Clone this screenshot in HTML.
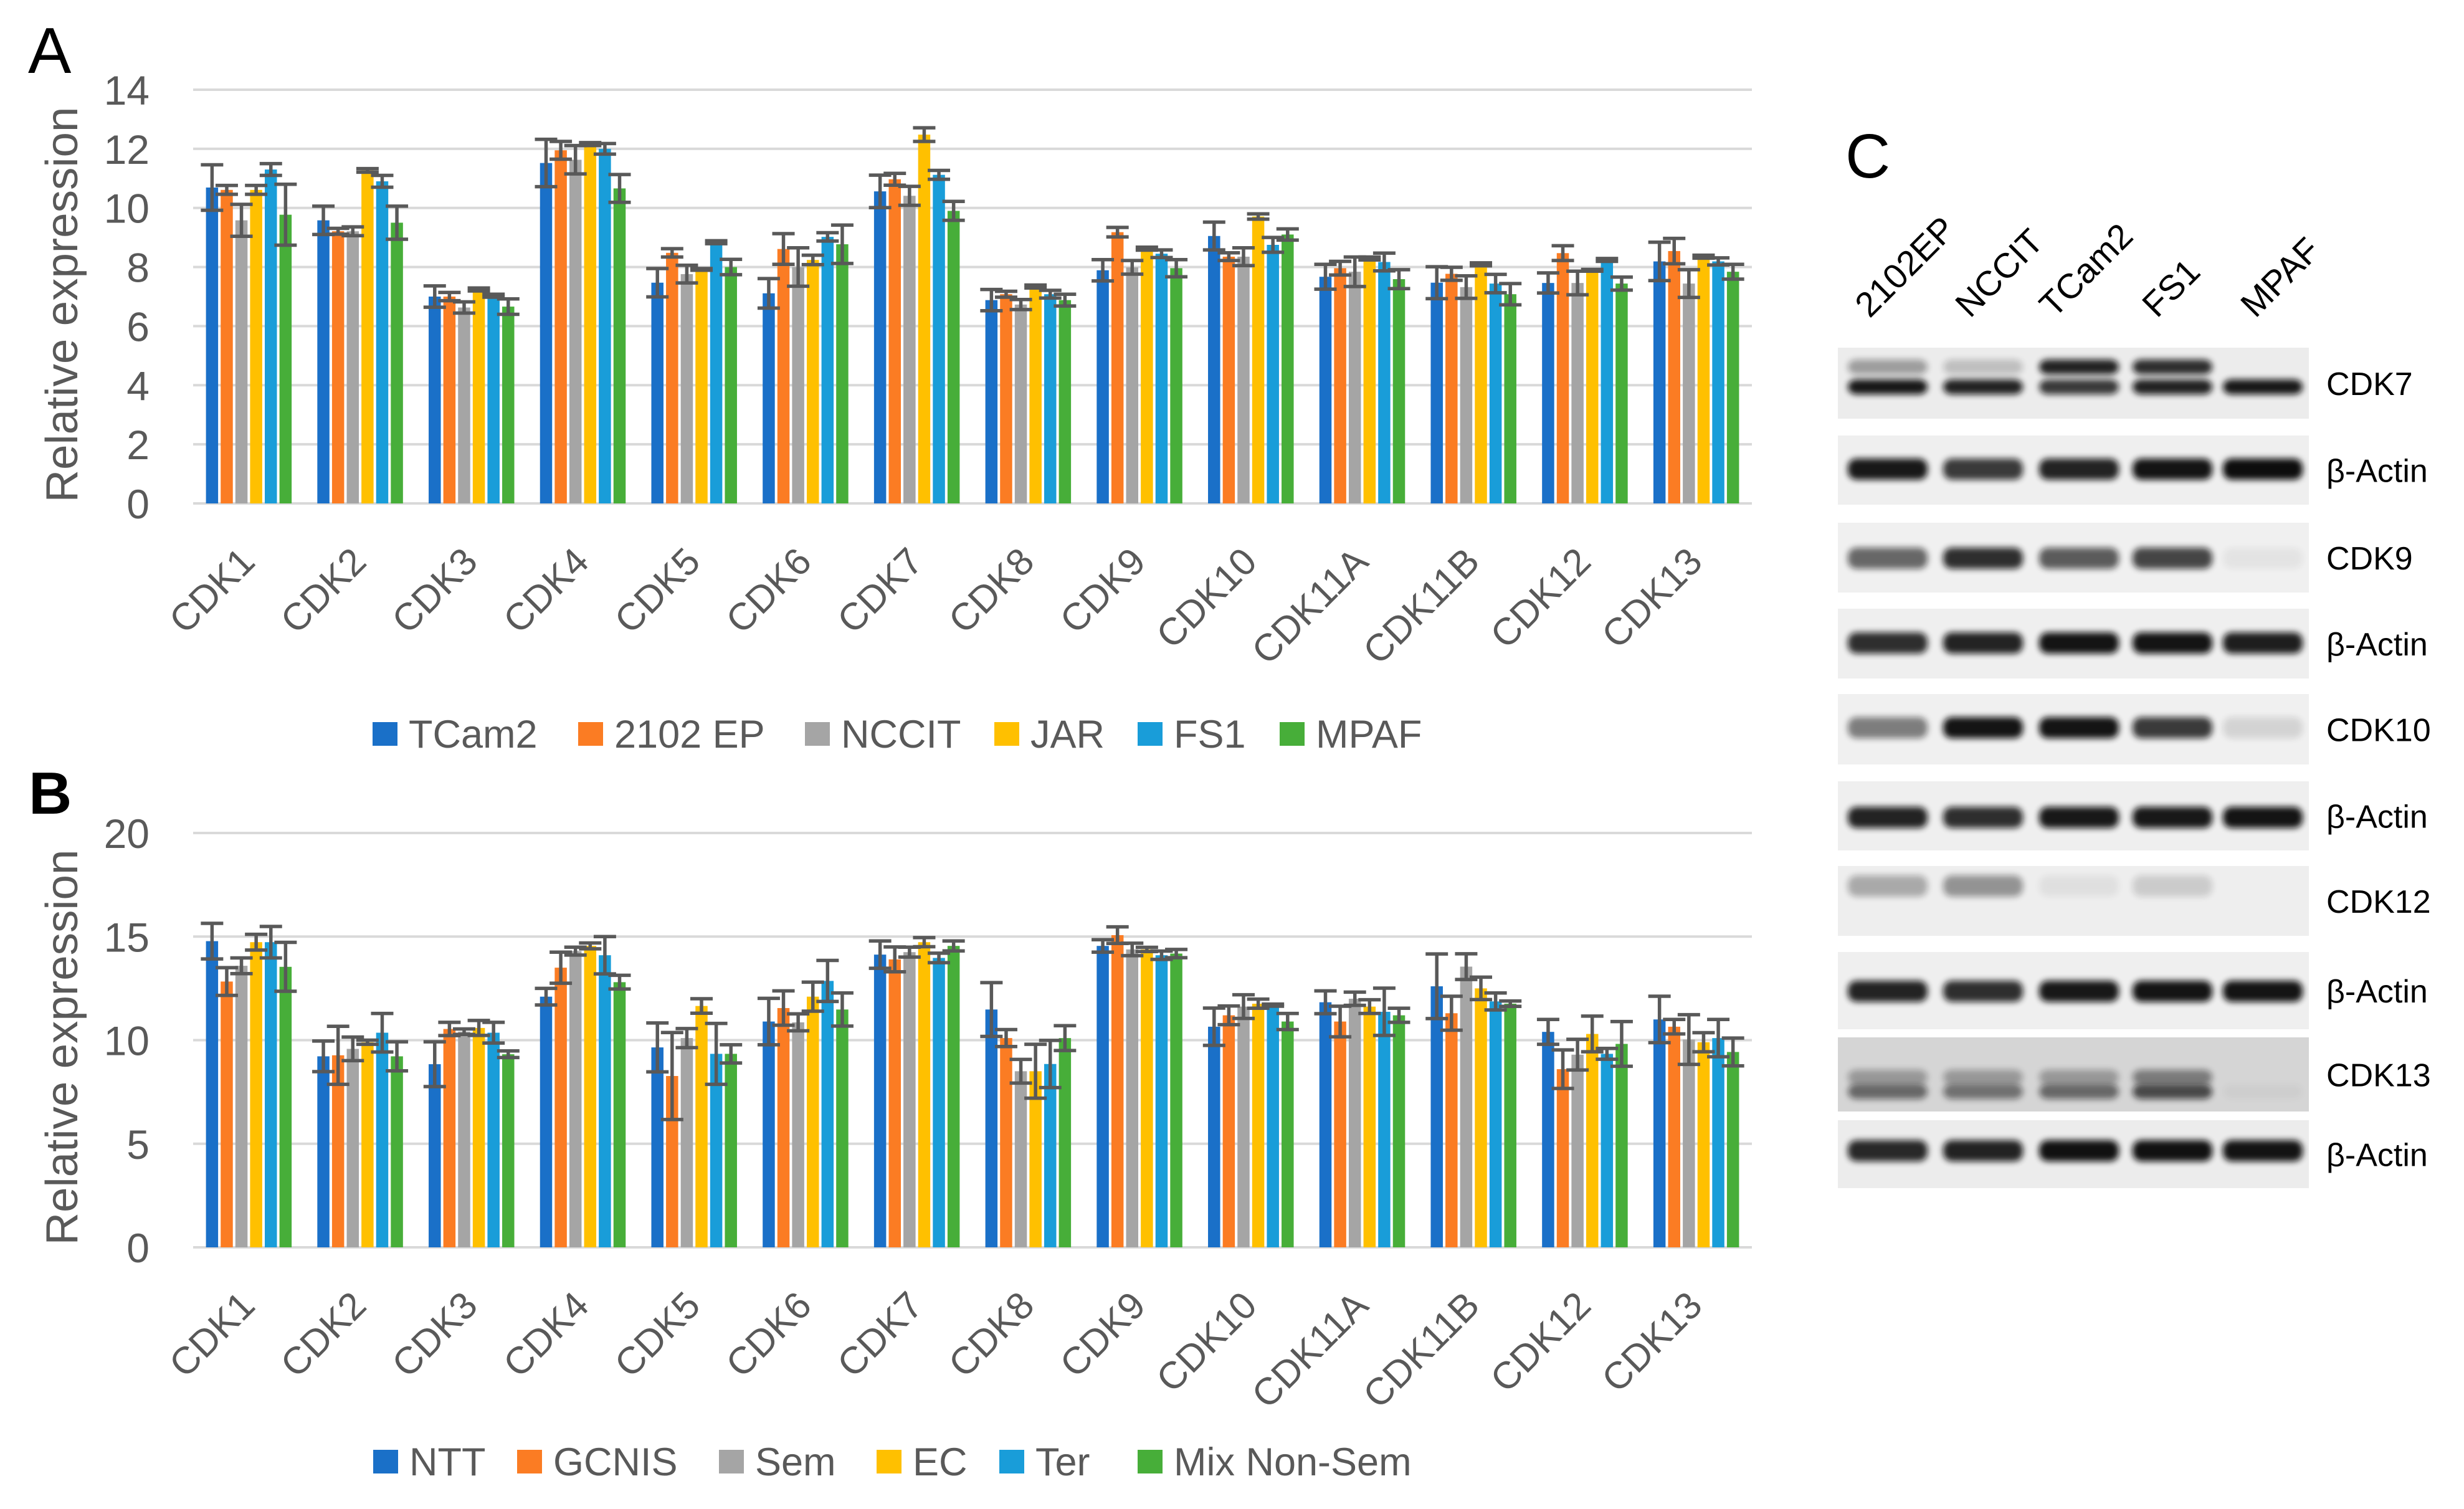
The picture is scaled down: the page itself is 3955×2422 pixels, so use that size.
<!DOCTYPE html>
<html><head><meta charset="utf-8"><style>
html,body{margin:0;padding:0;background:#fff;}
svg{display:block;}
text{font-family:"Liberation Sans",sans-serif;}
</style></head><body>
<svg id="fig" width="3955" height="2422" viewBox="0 0 3955 2422" xmlns="http://www.w3.org/2000/svg">
<defs>
<filter id="blur" x="-30%" y="-100%" width="160%" height="300%"><feGaussianBlur stdDeviation="5"/></filter>
</defs>
<text x="45" y="117" font-size="104" fill="#000">A</text>
<text x="46" y="1306" font-size="96" font-weight="bold" fill="#000">B</text>
<text x="2962" y="285" font-size="100" fill="#000">C</text>
<g id="chartA"></g>
<g id="chartB"></g>
<g id="blots"></g>
</svg>
<script>
const categories = ["CDK1","CDK2","CDK3","CDK4","CDK5","CDK6","CDK7","CDK8","CDK9","CDK10","CDK11A","CDK11B","CDK12","CDK13"];
const colors = ["#1a70c8","#fb7c23","#a5a5a5","#ffc000","#199dd9","#47ae39"];

const seriesA = ["TCam2","2102 EP","NCCIT","JAR","FS1","MPAF"];
const aTCam2 = [10.69,9.58,7.0,11.52,7.47,7.11,10.56,6.88,7.89,9.05,7.67,7.47,7.46,8.19];
const a2102EP = [10.61,9.21,7.0,11.95,8.48,8.61,10.97,7.08,9.18,8.35,7.96,7.77,8.47,8.54];
const aNCCIT = [9.58,9.21,6.63,11.63,7.76,8.0,10.41,6.73,7.99,8.35,7.84,7.32,7.46,7.44];
const aJAR = [10.61,11.27,7.24,12.16,7.92,8.24,12.48,7.34,8.62,9.71,8.29,8.09,7.89,8.35];
const aFS1 = [11.3,10.9,7.03,12.0,8.84,9.02,11.12,7.08,8.45,8.75,8.17,7.44,8.24,8.19];
const aMPAF = [9.77,9.5,6.66,10.66,8.0,8.77,9.9,6.88,7.96,9.1,7.59,7.08,7.44,7.84];
const eTCam2 = [0.77,0.48,0.36,0.8,0.48,0.5,0.55,0.36,0.36,0.47,0.42,0.54,0.34,0.65];
const e2102EP = [0.15,0.1,0.14,0.3,0.14,0.52,0.2,0.1,0.16,0.13,0.23,0.22,0.25,0.43];
const eNCCIT = [0.54,0.15,0.19,0.48,0.3,0.65,0.32,0.17,0.23,0.3,0.5,0.38,0.4,0.47];
const eJAR = [0.15,0.06,0.05,0.05,0.03,0.16,0.23,0.05,0.05,0.09,0.05,0.05,0.03,0.05];
const eFS1 = [0.2,0.2,0.05,0.18,0.05,0.14,0.15,0.13,0.13,0.25,0.3,0.31,0.05,0.12];
const eMPAF = [1.03,0.56,0.26,0.47,0.26,0.65,0.32,0.2,0.29,0.19,0.32,0.36,0.22,0.25];
const ticksA = [0,2,4,6,8,10,12,14];

const seriesB = ["NTT","GCNIS","Sem","EC","Ter","Mix Non-Sem"];
const bNTT = [14.78,9.22,8.84,12.1,9.65,10.9,14.13,11.48,14.55,10.65,11.83,12.6,10.4,11.0];
const bGCNIS = [12.83,9.27,10.54,13.5,8.27,11.55,13.9,10.1,15.07,11.2,10.9,11.3,8.6,10.65];
const bSem = [13.59,9.58,10.41,14.3,10.1,10.86,14.25,8.5,14.38,11.62,12.0,13.55,9.3,10.03];
const bEC = [14.73,9.9,10.59,14.55,11.65,12.1,14.73,8.5,14.38,11.76,11.62,12.5,10.3,9.9];
const bTer = [14.73,10.36,10.36,14.1,9.34,12.86,13.97,8.85,14.1,11.69,11.37,11.87,9.34,10.1];
const bMix = [13.54,9.22,9.32,12.8,9.34,11.48,14.55,10.1,14.18,10.9,11.2,11.76,9.82,9.43];
const eNTT = [0.86,0.74,1.08,0.4,1.18,1.12,0.66,1.3,0.3,0.9,0.55,1.56,0.6,1.12];
const eGCNIS = [0.67,1.4,0.32,0.75,2.1,0.83,0.6,0.41,0.4,0.45,0.74,0.82,0.93,0.35];
const eSem = [0.38,0.57,0.13,0.19,0.46,0.41,0.24,0.57,0.3,0.57,0.32,0.62,0.74,1.2];
const eEC = [0.38,0.1,0.36,0.14,0.35,0.7,0.22,1.3,0.1,0.22,0.33,0.54,0.86,0.46];
const eTer = [0.76,0.93,0.5,0.9,1.47,0.99,0.23,1.14,0.2,0.05,1.14,0.41,0.26,0.9];
const eMix = [1.18,0.7,0.16,0.33,0.44,0.8,0.24,0.6,0.2,0.39,0.34,0.13,1.08,0.67];
const ticksB = [0,5,10,15,20];

const NS = "http://www.w3.org/2000/svg";
function mk(parent, tag, attrs, txt){
  const el = document.createElementNS(NS, tag);
  for (const k in attrs) el.setAttribute(k, attrs[k]);
  if (txt !== undefined) el.textContent = txt;
  parent.appendChild(el);
  return el;
}

function drawChart(gid, cfg){
  const g = document.getElementById(gid);
  const x0 = 310, x1 = 2812;
  const cw = (x1 - x0) / categories.length;
  const yS = v => cfg.zeroY - (v / cfg.max) * (cfg.zeroY - cfg.topY);
  const xC = i => x0 + cw * (i + 0.5);
  cfg.ticks.forEach(t => {
    const gl = mk(g, "line", {x1:x0, x2:x1, y1:yS(t), y2:yS(t), stroke:"#d9d9d9", "stroke-width":4});
    
    
    const tl = mk(g, "text", {x:240, y:yS(t)+24, "text-anchor":"end", "font-size":66, fill:"#595959"}, String(t));
    
    
  });
  const yt = mk(g, "text", {x:0, y:0, "text-anchor":"middle", "font-size":72, fill:"#595959", textLength:635, lengthAdjust:"spacingAndGlyphs", transform:`translate(124,${cfg.titleY}) rotate(-90)`}, "Relative expression");
  
  
  const pitch = 23.6, bw = 19.5;
  cfg.values.forEach((arr, s) => {
    arr.forEach((v, i) => {
      const cx = xC(i) + (s - 2.5) * pitch;
      const r = mk(g, "rect", {x:cx - bw/2, y:yS(v), width:bw, height:cfg.zeroY - yS(v), fill:colors[s]});
      
      
    });
  });
  cfg.values.forEach((arr, s) => {
    arr.forEach((v, i) => {
      const cx = xC(i) + (s - 2.5) * pitch;
      const e = cfg.errors[s][i];
      const eg = mk(g, "g", {stroke:"#595959", "stroke-width":5.5});
      
      
      mk(eg, "line", {x1:cx, x2:cx, y1:yS(v+e), y2:yS(v-e)});
      mk(eg, "line", {x1:cx-18, x2:cx+18, y1:yS(v+e), y2:yS(v+e)});
      mk(eg, "line", {x1:cx-18, x2:cx+18, y1:yS(v-e), y2:yS(v-e)});
    });
  });
  categories.forEach((c, i) => {
    const ex = xC(i) + 13, ey = cfg.zeroY + 97;
    const t = mk(g, "text", {x:ex, y:ey, "text-anchor":"end", "font-size":61, fill:"#595959", transform:`rotate(-45 ${ex} ${ey})`}, c);
    
    
  });
  cfg.series.forEach((n, s) => {
    const lx = cfg.legendX[s];
    const lg = mk(g, "g", {});
    
    
    mk(lg, "rect", {x:lx, y:cfg.legendY - 19, width:40, height:38, fill:colors[s]});
    mk(lg, "text", {x:lx + 58, y:cfg.legendY + 22, "font-size":63, fill:"#595959"}, n);
  });
}

drawChart("chartA", {zeroY:808, topY:144, max:14, ticks:ticksA, titleY:489,
  values:[aTCam2,a2102EP,aNCCIT,aJAR,aFS1,aMPAF],
  errors:[eTCam2,e2102EP,eNCCIT,eJAR,eFS1,eMPAF],
  series:seriesA, legendX:[598,928,1292,1596,1826,2054], legendY:1178});
drawChart("chartB", {zeroY:2002, topY:1337, max:20, ticks:ticksB, titleY:1681,
  values:[bNTT,bGCNIS,bSem,bEC,bTer,bMix],
  errors:[eNTT,eGCNIS,eSem,eEC,eTer,eMix],
  series:seriesB, legendX:[599,830,1154,1407,1604,1826], legendY:2346});

const lanes = ["2102EP","NCCIT","TCam2","FS1","MPAF"];
const laneX = [3030,3183,3337,3487,3632];
const laneLabelX = [3001,3162,3297,3462,3620];
const strips = [
 {name:"CDK7", top:558, bot:672, bg:"#ececec", bands:[[589,[0.35,0.2,0.9,0.85,0]],[621,[0.95,0.9,0.8,0.9,0.95]]]},
 {name:"β-Actin", top:699, bot:810, bg:"#efefef", bands:[[753,[0.95,0.8,0.9,0.97,1]]]},
 {name:"CDK9", top:839, bot:951, bg:"#f0f0f0", bands:[[896,[0.6,0.85,0.65,0.75,0.05]]]},
 {name:"β-Actin", top:977, bot:1089, bg:"#efefef", bands:[[1032,[0.85,0.9,0.97,0.97,0.92]]]},
 {name:"CDK10", top:1114, bot:1227, bg:"#f0f0f0", bands:[[1168,[0.5,0.97,0.97,0.8,0.12]]]},
 {name:"β-Actin", top:1254, bot:1365, bg:"#efefef", bands:[[1312,[0.9,0.85,0.95,0.95,0.97]]]},
 {name:"CDK12", top:1390, bot:1502, bg:"#eeeeee", bands:[[1422,[0.3,0.4,0.06,0.15,0]]]},
 {name:"β-Actin", top:1528, bot:1652, bg:"#efefef", bands:[[1591,[0.9,0.85,0.95,0.97,0.97]]]},
 {name:"CDK13", top:1665, bot:1784, bg:"#d5d5d5", bands:[[1729,[0.3,0.3,0.3,0.45,0]],[1752,[0.55,0.5,0.55,0.7,0.03]]]},
 {name:"β-Actin", top:1798, bot:1907, bg:"#ececec", bands:[[1847,[0.88,0.9,0.98,0.98,0.97]]]}
];
const bl = document.getElementById("blots");
lanes.forEach((l, i) => {
  const x = laneLabelX[i], y = 512;
  const t = mk(bl, "text", {x:x, y:y, "font-size":56, fill:"#000", transform:`rotate(-45 ${x} ${y})`}, l);
  
  
});
strips.forEach(st => {
  const sg = mk(bl, "g", {});
  
  
  mk(sg, "rect", {x:2950, y:st.top, width:756, height:st.bot - st.top, fill:st.bg});
  const bh = st.bands.length > 1 ? 24 : 34;
  st.bands.forEach(([by, ints]) => {
    ints.forEach((v, i) => {
      if (v <= 0) return;
      const b = mk(sg, "rect", {x:laneX[i]-64, y:by-bh/2, width:128, height:bh, rx:14, fill:"#111", opacity:v, filter:"url(#blur)"});
      
      
    });
  });
  const lt = mk(sg, "text", {x:3734, y:(st.top + st.bot)/2 + 19, "font-size":52, fill:"#000"}, st.name);
  
  
});
</script>
</body></html>
